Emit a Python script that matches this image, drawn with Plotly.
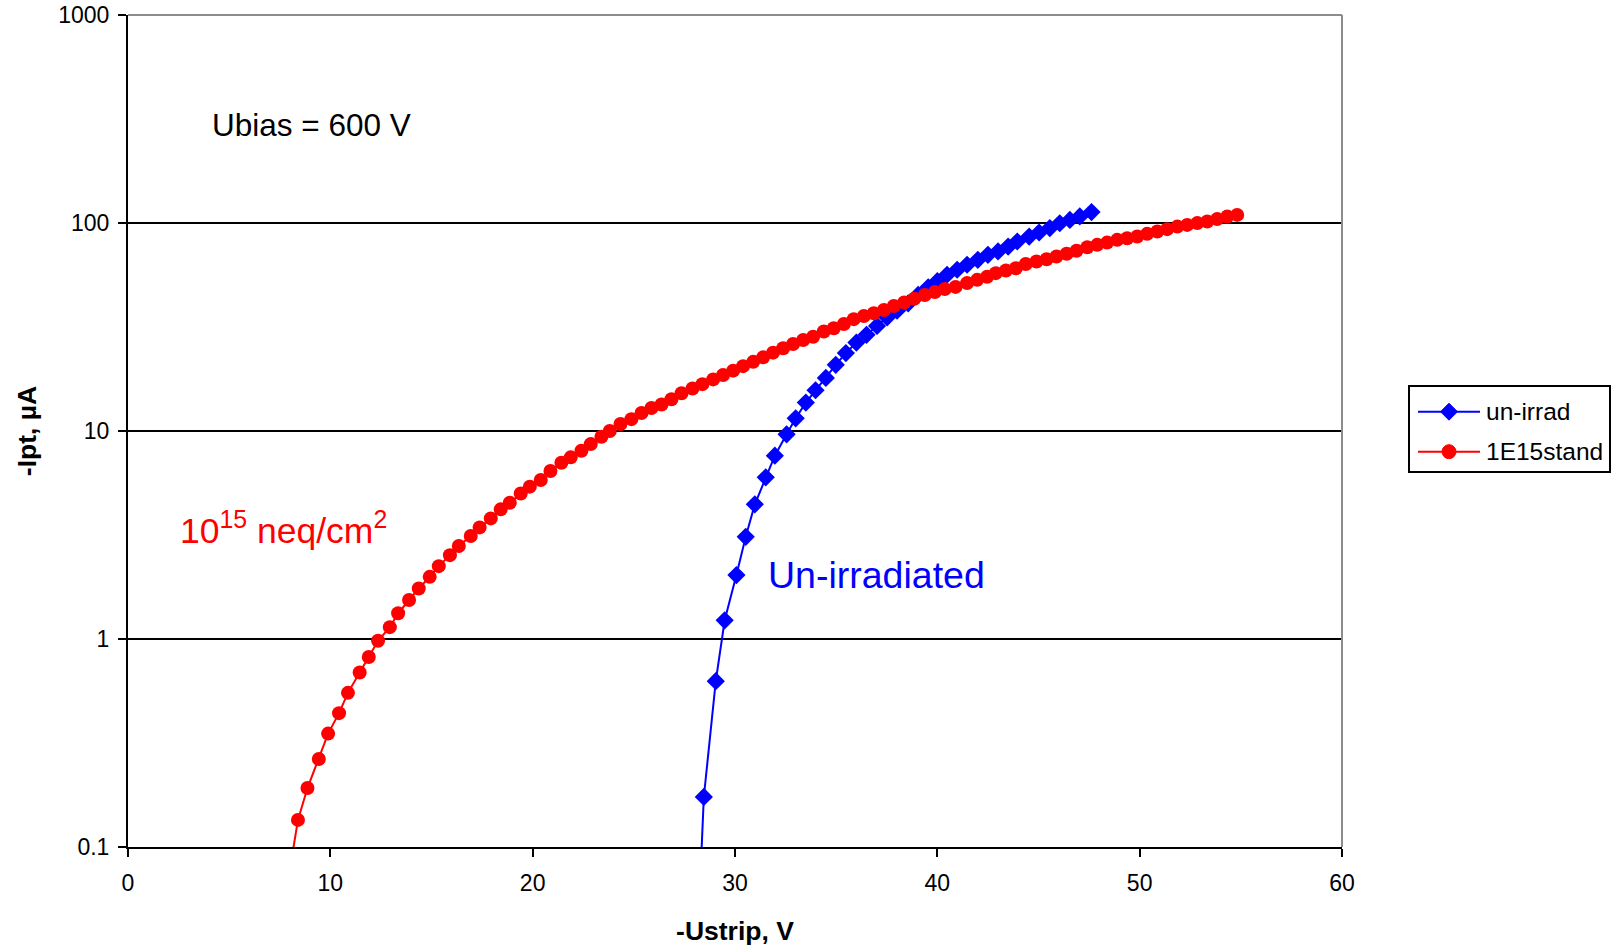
import plotly.graph_objects as go

# Interstrip punch-through current vs strip voltage, Ubias = 600 V
# un-irradiated sensor (blue diamonds)
unirrad_u = [28.0, 28.46, 29.05, 29.49, 30.07, 30.53, 30.98, 31.52, 31.97, 32.55,
             33.0, 33.5, 33.98, 34.49, 34.98, 35.48, 36.0, 36.5, 37.02, 37.52,
             38.01, 38.56, 39.05, 39.55, 40.0, 40.48, 40.98, 41.47, 42.0, 42.5,
             43.0, 43.5, 43.95, 44.54, 45.03, 45.56, 46.05, 46.55, 47.04, 47.62]
unirrad_i = [0.016, 0.174, 0.627, 1.23, 2.03, 3.10, 4.44, 5.99, 7.61, 9.64,
             11.5, 13.7, 15.7, 18.0, 20.8, 23.7, 26.6, 29.0, 32.0, 35.2,
             37.9, 41.1, 45.1, 49.1, 52.5, 56.4, 59.6, 63.0, 66.5, 70.3,
             73.0, 77.0, 81.5, 86.0, 90.0, 94.5, 99.7, 103.5, 107.5, 112.8]

# irradiated to 1e15 neq/cm2 (red circles)
irrad_u = [7.9, 8.4, 8.87, 9.43, 9.89, 10.43, 10.87, 11.45, 11.9, 12.36,
           12.94, 13.35, 13.89, 14.37, 14.91, 15.36, 15.91, 16.35, 16.94, 17.38,
           17.93, 18.42, 18.87, 19.41, 19.86, 20.4, 20.88, 21.42, 21.88, 22.41,
           22.87, 23.4, 23.81, 24.34, 24.88, 25.38, 25.87, 26.37, 26.86, 27.36,
           27.9, 28.39, 28.92, 29.41, 29.91, 30.4, 30.9, 31.39, 31.88, 32.38,
           32.87, 33.37, 33.86, 34.39, 34.88, 35.38, 35.87, 36.37, 36.86, 37.36,
           37.85, 38.36, 38.86, 39.38, 39.88, 40.37, 40.9, 41.47, 41.97, 42.46,
           42.89, 43.39, 43.88, 44.37, 44.9, 45.4, 45.89, 46.39, 46.88, 47.41,
           47.9, 48.39, 48.89, 49.38, 49.88, 50.37, 50.87, 51.36, 51.86, 52.35,
           52.85, 53.34, 53.83, 54.33, 54.82]
irrad_i = [0.068, 0.135, 0.192, 0.265, 0.351, 0.44, 0.551, 0.69, 0.82, 0.98,
           1.14, 1.33, 1.54, 1.75, 1.99, 2.24, 2.53, 2.8, 3.13, 3.44,
           3.8, 4.2, 4.52, 5.01, 5.4, 5.81, 6.42, 7.04, 7.47, 8.04,
           8.65, 9.39, 10.0, 10.8, 11.4, 12.2, 12.9, 13.4, 14.2, 15.2,
           16.0, 16.8, 17.7, 18.6, 19.5, 20.5, 21.5, 22.6, 23.8, 25.0,
           26.2, 27.4, 28.4, 30.1, 31.2, 32.7, 34.5, 35.7, 36.8, 38.2,
           39.9, 41.5, 43.2, 45.1, 46.6, 48.1, 49.3, 51.4, 53.3, 55.2,
           57.4, 59.1, 60.6, 63.5, 65.3, 67.0, 69.0, 71.1, 73.6, 76.5,
           78.5, 80.5, 83.0, 84.5, 86.1, 88.7, 91.0, 93.4, 96.1, 97.9,
           99.9, 101.6, 104.4, 107.5, 109.4]

x_ticks = [0, 10, 20, 30, 40, 50, 60]
y_ticks = [0.1, 1, 10, 100, 1000]
y_tick_text = ["0.1", "1", "10", "100", "1000"]

series_names = ["un-irrad", "1E15stand"]
BLUE = "#0000FF"
RED = "#FF0000"
FONT = "Liberation Sans, Arial, sans-serif"

W, H = 1614, 947
ML, MR, MT, MB = 128, 272, 15, 100
PW, PH = W - ML - MR, H - MT - MB


def px(xp):
    return (xp - ML) / PW


def py(yp):
    return (H - MB - yp) / PH


fig = go.Figure()
fig.add_trace(go.Scatter(
    x=unirrad_u, y=unirrad_i, mode="lines+markers", name=series_names[0],
    line=dict(color=BLUE, width=2),
    marker=dict(symbol="diamond", size=14, color=BLUE),
    showlegend=False))
fig.add_trace(go.Scatter(
    x=irrad_u, y=irrad_i, mode="lines+markers", name=series_names[1],
    line=dict(color=RED, width=2),
    marker=dict(symbol="circle", size=14, color=RED),
    showlegend=False))

fig.update_layout(
    width=W, height=H,
    margin=dict(l=ML, r=MR, t=MT, b=MB, autoexpand=False),
    paper_bgcolor="white", plot_bgcolor="white",
    font=dict(family=FONT, color="black", size=23),
)

fig.update_xaxes(
    range=[0, 60], tickvals=x_ticks, ticks="outside", ticklen=8, tickwidth=2,
    tickcolor="black", showline=True, linecolor="black", linewidth=2,
    showgrid=False, zeroline=False, tickfont=dict(size=23),
    ticklabelstandoff=6,
    title=dict(text="<b>-Ustrip, V</b>", font=dict(size=26.5), standoff=27),
)
fig.update_yaxes(
    type="log", range=[-1, 3], tickvals=y_ticks, ticktext=y_tick_text,
    ticks="outside", ticklen=8, tickwidth=2, tickcolor="black",
    showline=True, linecolor="black", linewidth=2,
    showgrid=True, gridcolor="black", gridwidth=2, zeroline=False,
    tickfont=dict(size=23), ticklabelstandoff=4,
    title=dict(text="<b>-Ipt, µA</b>", font=dict(size=26.5), standoff=14),
)

# grey frame on the top and right of the plotting area
fig.add_shape(type="line", xref="paper", yref="paper", x0=0, x1=1, y0=1, y1=1,
              line=dict(color="#8C8C8C", width=2), layer="above")
fig.add_shape(type="line", xref="paper", yref="paper", x0=1, x1=1, y0=0, y1=1,
              line=dict(color="#8C8C8C", width=2), layer="above")

# in-plot labels
fig.add_annotation(x=4.05, y=2.469, xref="x", yref="y", text="Ubias = 600 V",
                   showarrow=False, xanchor="left", yanchor="middle",
                   font=dict(size=31.5, color="black"))
fig.add_annotation(x=2.45, y=0.53, xref="x", yref="y",
                   text="10<sup>15</sup> neq/cm<sup>2</sup>",
                   showarrow=False, xanchor="left", yanchor="middle",
                   font=dict(size=35.5, color=RED))
fig.add_annotation(x=31.55, y=0.31, xref="x", yref="y", text="Un-irradiated",
                   showarrow=False, xanchor="left", yanchor="middle",
                   font=dict(size=37.5, color=BLUE))

# legend box
fig.add_shape(type="rect", xref="paper", yref="paper",
              x0=px(1409), x1=px(1610), y0=py(472), y1=py(386),
              line=dict(color="black", width=2), fillcolor="white")
legend_rows = [(411.7, BLUE, "diamond"), (451.7, RED, "circle")]
for (yrow, col, sym), name in zip(legend_rows, series_names):
    fig.add_shape(type="line", xref="paper", yref="paper",
                  x0=px(1418), x1=px(1480), y0=py(yrow), y1=py(yrow),
                  line=dict(color=col, width=2))
    cx, cy = 1449, yrow
    if sym == "diamond":
        r = 8.5
        path = (f"M {px(cx - r)},{py(cy)} L {px(cx)},{py(cy - r)} "
                f"L {px(cx + r)},{py(cy)} L {px(cx)},{py(cy + r)} Z")
        fig.add_shape(type="path", xref="paper", yref="paper", path=path,
                      fillcolor=col, line=dict(color=col, width=1))
    else:
        r = 7
        fig.add_shape(type="circle", xref="paper", yref="paper",
                      x0=px(cx - r), x1=px(cx + r), y0=py(cy + r), y1=py(cy - r),
                      fillcolor=col, line=dict(color=col, width=1))
    fig.add_annotation(x=px(1484), y=py(yrow), xref="paper", yref="paper",
                       text=name, showarrow=False, xanchor="left",
                       yanchor="middle", font=dict(size=24.5, color="black"))

fig.write_html("out.html")
